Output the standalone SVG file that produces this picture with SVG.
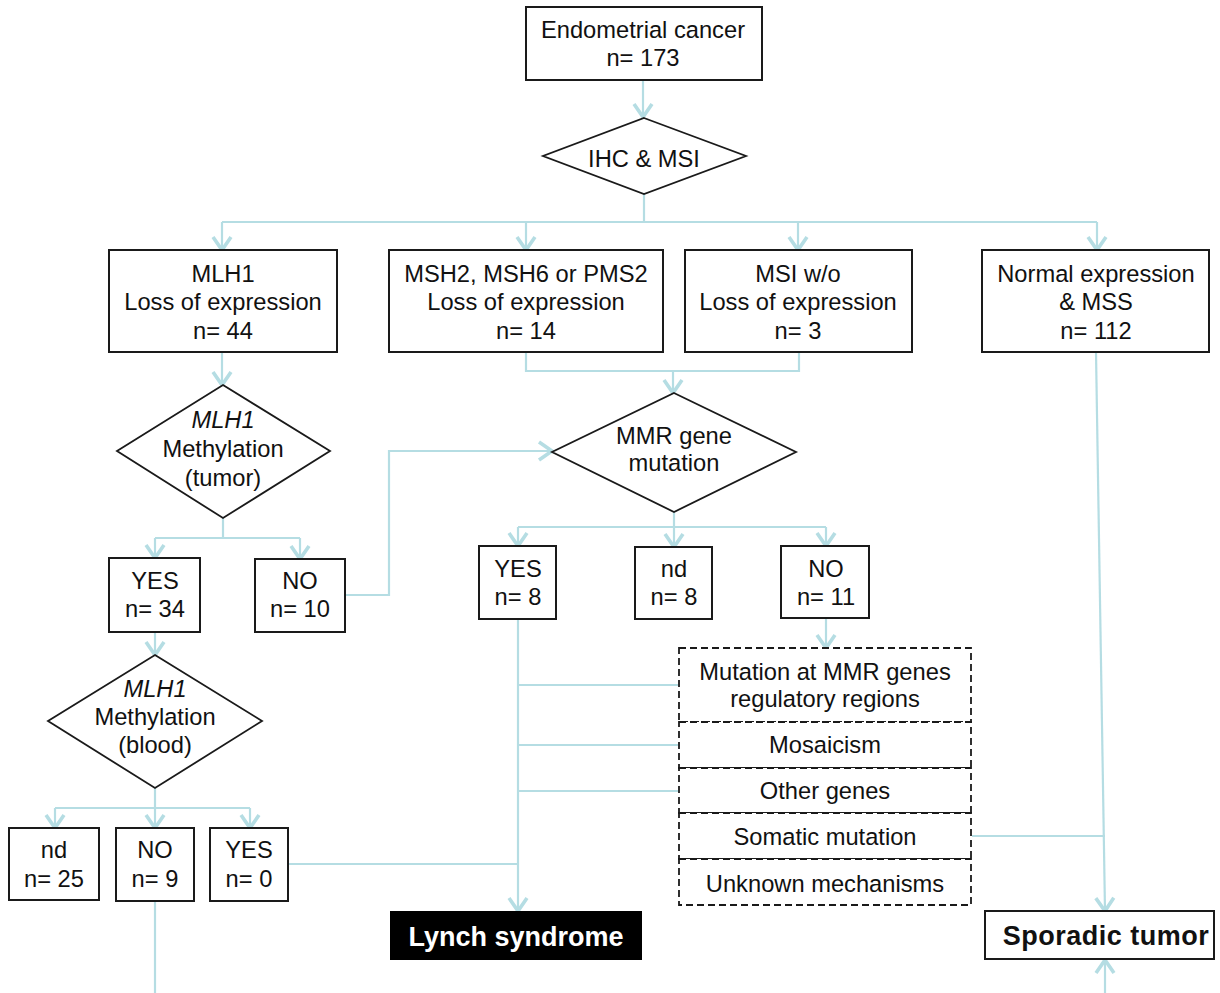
<svg xmlns="http://www.w3.org/2000/svg" width="1220" height="993" viewBox="0 0 1220 993">
<style>
.box{fill:#fff;stroke:#1a1a1a;stroke-width:2}
.dia{fill:#fff;stroke:#1a1a1a;stroke-width:1.8}
.dash{fill:#fff;stroke:#1a1a1a;stroke-width:1.8;stroke-dasharray:7 4}
.c{fill:none;stroke:#b5dde3;stroke-width:2.2}
.ca{fill:none;stroke:#b5dde3;stroke-width:2.2;marker-end:url(#arr)}
text{font-family:"Liberation Sans",Arial,sans-serif;font-size:23.7px;fill:#111;text-anchor:middle}
.i{font-style:italic}
.b{font-weight:bold;font-size:27px}
</style>
<defs>
<marker id="arr" markerUnits="userSpaceOnUse" markerWidth="22" markerHeight="22" viewBox="0 0 22 22" refX="17" refY="11" orient="auto">
<path d="M4,2 L17,11 L4,20" fill="none" stroke="#b5dde3" stroke-width="3.6"/>
</marker>
</defs>

<g id="connectors">
<path class="ca" d="M643,80 V117"/>
<path class="c" d="M644,194 V222 M222,222 H1097"/>
<path class="ca" d="M222,222 V250"/>
<path class="ca" d="M526,222 V250"/>
<path class="ca" d="M798,222 V250"/>
<path class="ca" d="M1097,222 V250"/>
<path class="ca" d="M222,352 V385"/>
<path class="c" d="M526,352 V371 H799 V352"/>
<path class="ca" d="M673,371 V393"/>
<path class="c" d="M223,518 V538 M155,538 H300"/>
<path class="ca" d="M155,538 V558"/>
<path class="ca" d="M300,538 V559"/>
<path class="ca" d="M345,595 H389 V451 H552"/>
<path class="c" d="M674,512 V527 M518,527 H826"/>
<path class="ca" d="M518,527 V546"/>
<path class="ca" d="M674,527 V547"/>
<path class="ca" d="M826,527 V546"/>
<path class="ca" d="M518,619 V911"/>
<path class="ca" d="M826,618 V648"/>
<path class="c" d="M678,685 H518 M678,745 H518 M678,791 H518"/>
<path class="c" d="M972,836 H1105"/>
<path class="ca" d="M1096,352 L1105,911"/>
<path class="ca" d="M1105,993 V960"/>
<path class="ca" d="M155,632 V655"/>
<path class="c" d="M155,788 V808 M55,808 H250"/>
<path class="ca" d="M55,808 V828"/>
<path class="ca" d="M155,808 V828"/>
<path class="ca" d="M250,808 V828"/>
<path class="c" d="M288,864 H518"/>
<path class="c" d="M155,901 V993"/>
</g>

<g id="endometrial">
<rect class="box" x="526" y="7" width="236" height="73"/>
<text x="643" y="38">Endometrial cancer</text>
<text x="643" y="66">n= 173</text>
</g>
<g id="ihc-msi">
<polygon class="dia" points="644,118 746,156 644,194 543,156"/>
<text x="644" y="167">IHC &amp; MSI</text>
</g>
<g id="mlh1-loss">
<rect class="box" x="109" y="250" width="228" height="102"/>
<text x="223" y="282">MLH1</text>
<text x="223" y="310">Loss of expression</text>
<text x="223" y="339">n= 44</text>
</g>
<g id="msh2-loss">
<rect class="box" x="389" y="250" width="274" height="102"/>
<text x="526" y="282">MSH2, MSH6 or PMS2</text>
<text x="526" y="310">Loss of expression</text>
<text x="526" y="339">n= 14</text>
</g>
<g id="msi-wo">
<rect class="box" x="685" y="250" width="227" height="102"/>
<text x="798" y="282">MSI w/o</text>
<text x="798" y="310">Loss of expression</text>
<text x="798" y="339">n= 3</text>
</g>
<g id="normal">
<rect class="box" x="982" y="250" width="227" height="102"/>
<text x="1096" y="282">Normal expression</text>
<text x="1096" y="310">&amp; MSS</text>
<text x="1096" y="339">n= 112</text>
</g>
<g id="meth-tumor">
<polygon class="dia" points="223,385 330,451 223,518 117,451"/>
<text class="i" x="223" y="428">MLH1</text>
<text x="223" y="457">Methylation</text>
<text x="223" y="486">(tumor)</text>
</g>
<g id="mmr">
<polygon class="dia" points="674,393 796,452 674,512 552,452"/>
<text x="674" y="444">MMR gene</text>
<text x="674" y="471">mutation</text>
</g>
<g id="tumor-yes">
<rect class="box" x="109" y="558" width="91" height="74"/>
<text x="155" y="589">YES</text>
<text x="155" y="617">n= 34</text>
</g>
<g id="tumor-no">
<rect class="box" x="255" y="559" width="90" height="73"/>
<text x="300" y="589">NO</text>
<text x="300" y="617">n= 10</text>
</g>
<g id="mmr-yes">
<rect class="box" x="479" y="546" width="77" height="73"/>
<text x="518" y="577">YES</text>
<text x="518" y="605">n= 8</text>
</g>
<g id="mmr-nd">
<rect class="box" x="635" y="547" width="77" height="72"/>
<text x="674" y="577">nd</text>
<text x="674" y="605">n= 8</text>
</g>
<g id="mmr-no">
<rect class="box" x="781" y="546" width="88" height="72"/>
<text x="826" y="577">NO</text>
<text x="826" y="605">n= 11</text>
</g>
<g id="mechanisms">
<rect class="dash" x="679" y="648" width="292" height="74"/>
<text x="825" y="680">Mutation at MMR genes</text>
<text x="825" y="707">regulatory regions</text>
<rect class="dash" x="679" y="722" width="292" height="46"/>
<text x="825" y="753">Mosaicism</text>
<rect class="dash" x="679" y="768" width="292" height="45"/>
<text x="825" y="799">Other genes</text>
<rect class="dash" x="679" y="813" width="292" height="46"/>
<text x="825" y="845">Somatic mutation</text>
<rect class="dash" x="679" y="859" width="292" height="46"/>
<text x="825" y="892">Unknown mechanisms</text>
</g>
<g id="meth-blood">
<polygon class="dia" points="155,655 262,721 155,788 48,721"/>
<text class="i" x="155" y="697">MLH1</text>
<text x="155" y="725">Methylation</text>
<text x="155" y="753">(blood)</text>
</g>
<g id="blood-nd">
<rect class="box" x="9" y="828" width="90" height="72"/>
<text x="54" y="858">nd</text>
<text x="54" y="887">n= 25</text>
</g>
<g id="blood-no">
<rect class="box" x="116" y="828" width="78" height="73"/>
<text x="155" y="858">NO</text>
<text x="155" y="887">n= 9</text>
</g>
<g id="blood-yes">
<rect class="box" x="210" y="828" width="78" height="73"/>
<text x="249" y="858">YES</text>
<text x="249" y="887">n= 0</text>
</g>
<g id="lynch">
<rect x="390" y="911" width="252" height="49" fill="#000"/>
<text class="b" x="516" y="946" style="fill:#fff">Lynch syndrome</text>
</g>
<g id="sporadic">
<rect class="box" x="985" y="911" width="229" height="48"/>
<text class="b" x="1106" y="945" letter-spacing="0.5">Sporadic tumor</text>
</g>
</svg>
